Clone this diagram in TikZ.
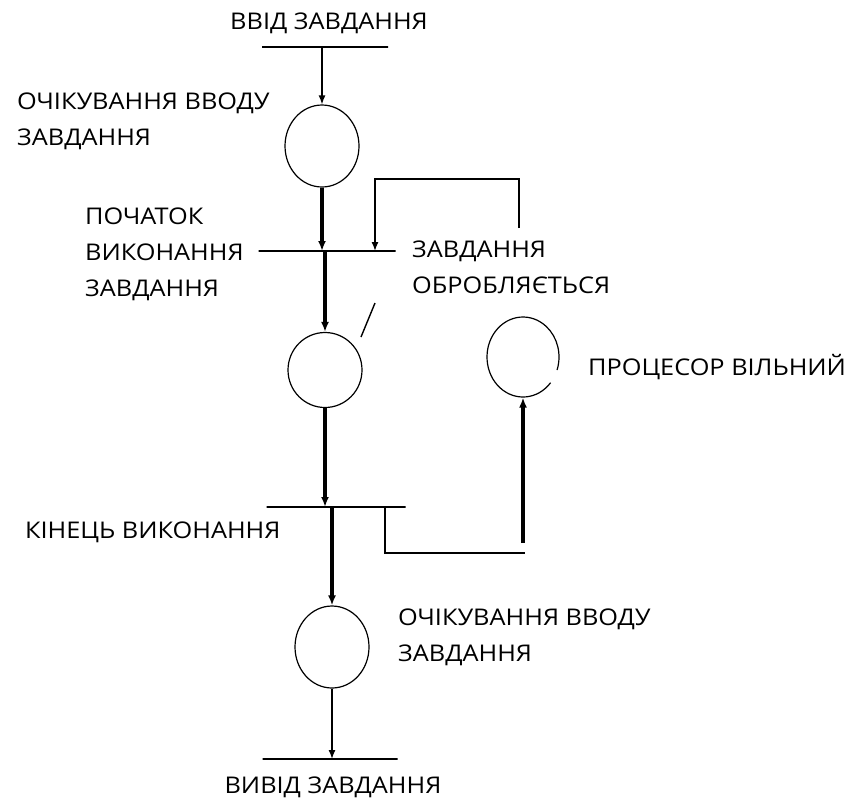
\documentclass[tikz,border=0pt]{standalone}
\usepackage{fontspec}
\setmainfont[FakeStretch=1.1]{Open Sans}
\usepackage{tikz}
\usetikzlibrary{calc,arrows.meta,shapes.geometric,positioning}

\begin{document}
\begin{tikzpicture}[x=1pt, y=-1pt,
	place/.style={ellipse, draw, line width=1.2pt, minimum width=74pt, minimum height=82pt, inner sep=0pt},
	bar/.style={draw, line width=1.4pt, inner sep=0pt, minimum height=0pt},
	lbl/.style={align=left, inner sep=0pt, font=\fontsize{23}{36}\selectfont},
	plain/.style={line width=1.4pt},
	lnk/.style={line width=1.4pt, -{Latex[length=9pt,width=7pt]}},
	lnkb/.style={line width=3.2pt, -{Latex[length=10pt,width=8pt]}}]
	\useasboundingbox (0,0) rectangle (853,804);

	\node (t1) [bar, minimum width=126pt] at (325,47) {};
	\node (p1) [place] at (322,146) {};
	\node (t2) [bar, minimum width=137pt] at (327,251) {};
	\node (p2) [place, minimum height=75pt] at (325,370) {};
	\node (p3) [place, draw=none, minimum width=72pt, minimum height=80pt] at (523,357) {};
	\node (t3) [bar, minimum width=139pt] at (336,507) {};
	\node (p4) [place] at (332,647) {};
	\node (t4) [bar, minimum width=135pt] at (330,759) {};

	\node (tin) [lbl, anchor=base] at (329,29) {ВВІД ЗАВДАННЯ};
	\node (lw1) [lbl, anchor=base west] at (17,145) {ОЧІКУВАННЯ ВВОДУ\\ЗАВДАННЯ};
	\node (lst) [lbl, anchor=base west] at (85,296) {ПОЧАТОК\\ВИКОНАННЯ\\ЗАВДАННЯ};
	\node (lbusy) [lbl, anchor=base west] at (412,293) {ЗАВДАННЯ\\ОБРОБЛЯЄТЬСЯ};
	\node (lfree) [lbl, anchor=base west] at (588,375) {ПРОЦЕСОР ВІЛЬНИЙ};
	\node (lend) [lbl, anchor=base west] at (25,538) {КІНЕЦЬ ВИКОНАННЯ};
	\node (lw2) [lbl, anchor=base west] at (398,661) {ОЧІКУВАННЯ ВВОДУ\\ЗАВДАННЯ};
	\node (tout) [lbl, anchor=base] at (333,793) {ВИВІД ЗАВДАННЯ};

	\coordinate (fb) at (519,228);
	\coordinate (fbtop) at (375,179);
	\coordinate (sa) at (375,303);
	\coordinate (sb) at (361,337);
	\coordinate (br) at (385,553);
	\coordinate (bend) at (525,553);
	\coordinate (up) at (523,543);

	\draw [lnk] (p1.north |- t1) -- (p1);
	\draw [lnkb] (p1) -- (p1.south |- t2);
	\draw [lnkb] (p2.north |- t2) -- (p2);
	\draw [lnk] (fb) |- (fbtop) -- (fbtop |- t2);
	\draw [plain] (sa) -- (sb);
	\draw [lnkb] (p2) -- (p2.south |- t3);
	\draw [lnkb] (p4.north |- t3) -- (p4);
	\draw [plain] (br |- t3) -- (br) -- (bend);
	\draw [lnkb] (up) -- (p3);
	\draw [line width=1.2pt] ($(p3.center)+(40:36 and 40)$) arc[start angle=40, end angle=379, x radius=36, y radius=40];
	\draw [lnk] (p4) -- (p4.south |- t4);
\end{tikzpicture}
\end{document}
